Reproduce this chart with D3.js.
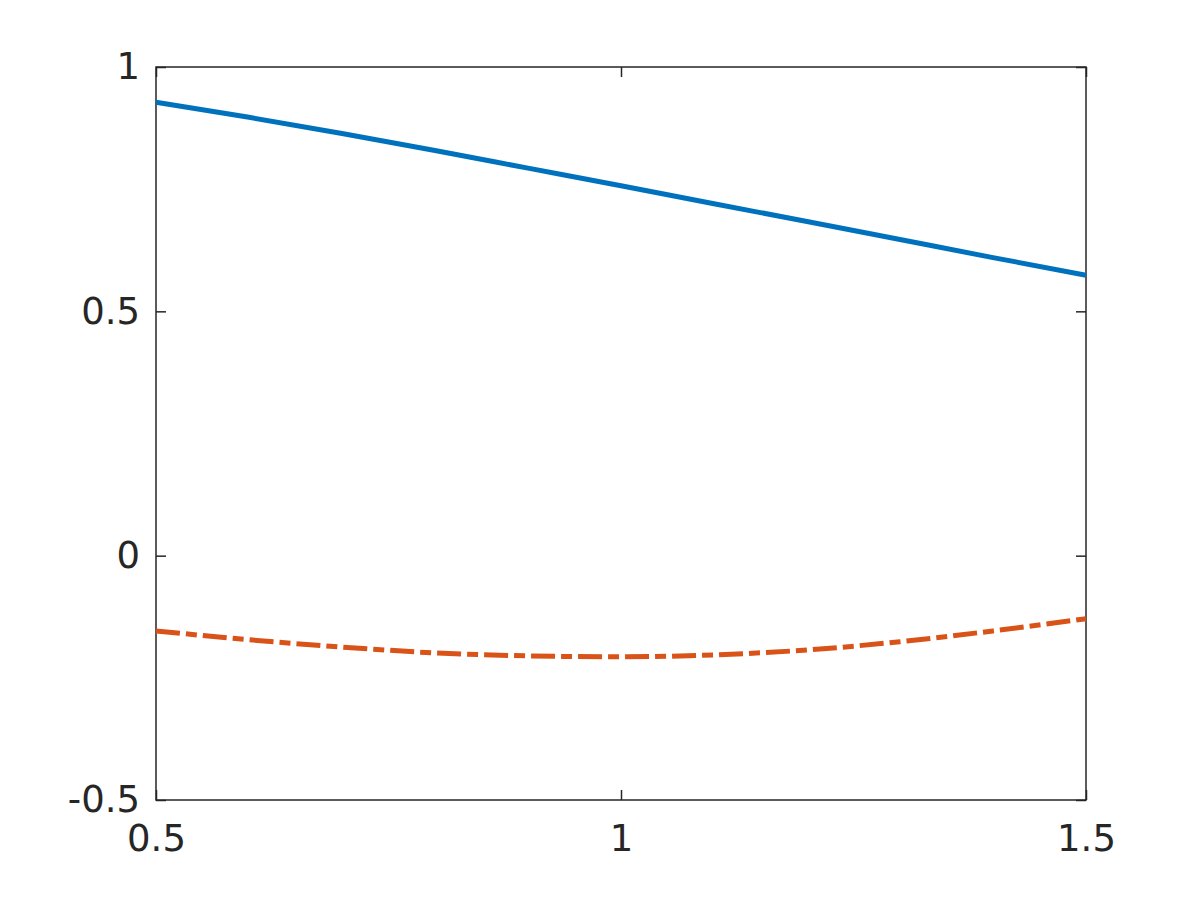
<!DOCTYPE html>
<html>
<head>
<meta charset="utf-8">
<script src="https://cdn.jsdelivr.net/npm/d3@7"></script>
<style>
  body { margin: 0; background: #fff; }
</style>
</head>
<body>
<script>
const width = 1200;
const height = 900;
const margin = { top: 67, right: 114, bottom: 100, left: 156 };

// sampled x values
const xValues = [0.5, 0.6, 0.7, 0.8, 0.9, 1.0, 1.1, 1.2, 1.3, 1.4, 1.5];
// solid blue curve
const blueValues = [0.928, 0.897, 0.864, 0.829, 0.793, 0.757, 0.720, 0.684, 0.647, 0.610, 0.574];
// dash-dot orange curve
const orangeValues = [-0.154, -0.172, -0.187, -0.199, -0.205, -0.207, -0.203, -0.193, -0.176, -0.154, -0.129];

const xTicks = [0.5, 1, 1.5];
const yTicks = [-0.5, 0, 0.5, 1];

const axisColor = "#262626";

const svg = d3.select("body")
  .append("svg")
  .attr("width", width)
  .attr("height", height);

const x = d3.scaleLinear()
  .domain([0.5, 1.5])
  .range([margin.left, width - margin.right]);

const y = d3.scaleLinear()
  .domain([-0.5, 1])
  .range([height - margin.bottom, margin.top]);

const fmt = d => String(d);

// axes, ticks pointing inward
function styleAxis(g) {
  g.select(".domain").remove();
  g.selectAll(".tick line").attr("stroke", axisColor).attr("stroke-width", 1.5);
  g.selectAll("text")
    .attr("fill", axisColor)
    .style("font-family", "DejaVu Sans, sans-serif")
    .style("font-size", "37px");
}

svg.append("g")
  .attr("transform", `translate(0,${height - margin.bottom})`)
  .call(d3.axisBottom(x).tickValues(xTicks).tickFormat(fmt).tickSize(-10).tickPadding(25))
  .call(styleAxis);

svg.append("g")
  .attr("transform", `translate(0,${margin.top})`)
  .call(d3.axisTop(x).tickValues(xTicks).tickFormat("").tickSize(-10))
  .call(styleAxis);

svg.append("g")
  .attr("transform", `translate(${margin.left},0)`)
  .call(d3.axisLeft(y).tickValues(yTicks).tickFormat(fmt).tickSize(-10).tickPadding(16))
  .call(styleAxis);

svg.append("g")
  .attr("transform", `translate(${width - margin.right},0)`)
  .call(d3.axisRight(y).tickValues(yTicks).tickFormat("").tickSize(-10))
  .call(styleAxis);

// the box
svg.append("rect")
  .attr("x", margin.left)
  .attr("y", margin.top)
  .attr("width", width - margin.left - margin.right)
  .attr("height", height - margin.top - margin.bottom)
  .attr("fill", "none")
  .attr("stroke", axisColor)
  .attr("stroke-width", 1.5);

const line = d3.line()
  .x(d => x(d[0]))
  .y(d => y(d[1]))
  .curve(d3.curveMonotoneX);

svg.append("path")
  .datum(xValues.map((v, i) => [v, blueValues[i]]))
  .attr("d", line)
  .attr("fill", "none")
  .attr("stroke", "#0072BD")
  .attr("stroke-width", 5);

svg.append("path")
  .datum(xValues.map((v, i) => [v, orangeValues[i]]))
  .attr("d", line)
  .attr("fill", "none")
  .attr("stroke", "#D95319")
  .attr("stroke-width", 5)
  .attr("stroke-dasharray", "24,6,11,6");
</script>
</body>
</html>
